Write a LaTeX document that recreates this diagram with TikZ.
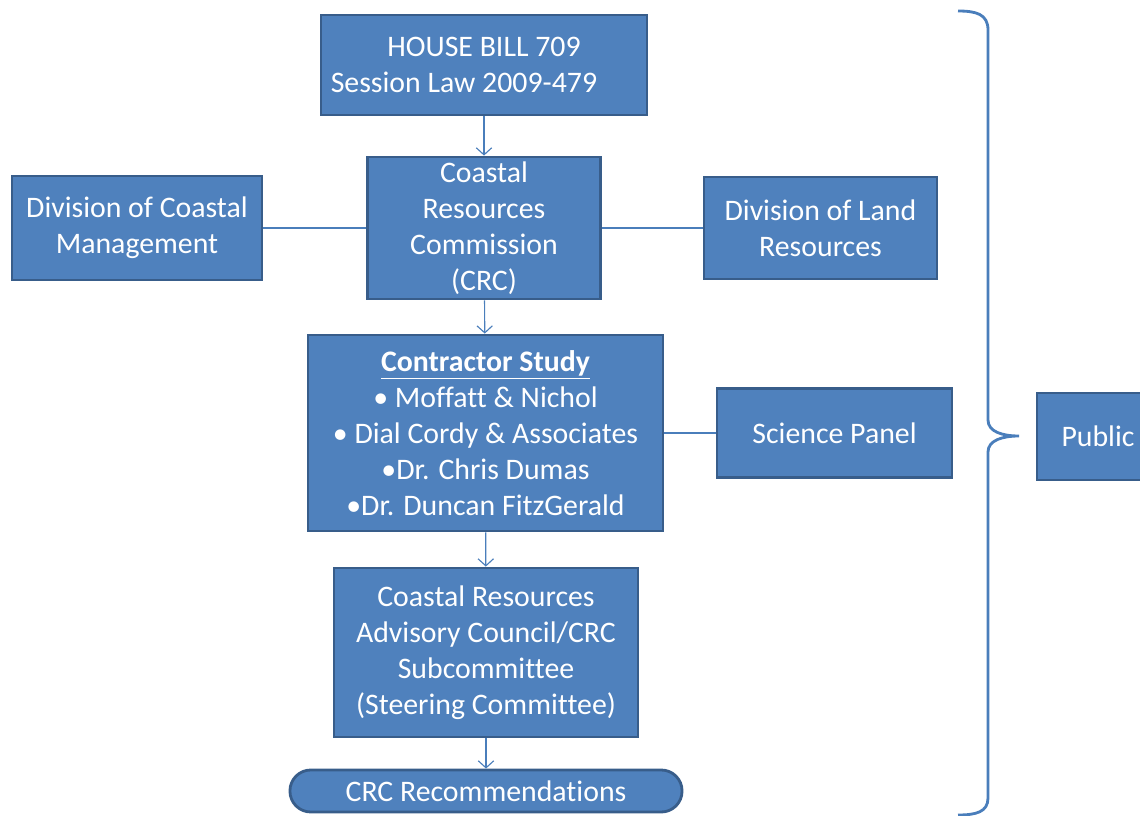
\documentclass[tikz,border=0pt]{standalone}
\usepackage{fontspec}
\setmainfont{Carlito}[Ligatures=NoCommon]
\usetikzlibrary{arrows.meta}
\definecolor{boxfill}{HTML}{4F81BD}
\definecolor{boxline}{HTML}{385D8A}
\definecolor{linkc}{HTML}{4A7EBB}

\begin{document}
\begin{tikzpicture}[%
        x = 0.025cm, y = -0.025cm,
        box/.style = {draw=boxline, fill=boxfill, line width=2pt, text=white,
          align=center, inner sep=0pt, font=\fontsize{21.2}{25.5}\selectfont},
        link/.style = {draw=linkc, line width=0.8pt},
        flow/.style = {link, -{Straight Barb[length=5pt,width=11pt]}}
    ]
      \useasboundingbox (0,0) rectangle (1140,816);
      \node[box, minimum width=8.15cm, minimum height=2.5cm] (bill) at (484,65)
        {HOUSE BILL 709\\Session Law 2009-479\hspace*{1cm}};
      \node[box, minimum width=5.825cm, minimum height=3.55cm] (crc) at (484,228)
        {Coastal\\Resources\\Commission\\(CRC)};
      \node[box, minimum width=6.25cm, minimum height=2.6cm] (dcm) at (137,228)
        {Division of Coastal\\Management};
      \node[box, minimum width=5.825cm, minimum height=2.55cm] (dlr) at (820.5,228)
        {Division of Land\\Resources};
      \node[box, minimum width=8.875cm, minimum height=4.9cm] (study) at (485.5,433)
        {\underline{\textbf{Contractor Study}}\\• Moffatt \& Nichol\\• Dial Cordy \& Associates\\•Dr. Chris Dumas\\•Dr. Duncan FitzGerald};
      \node[box, minimum width=5.875cm, minimum height=2.225cm] (panel) at (834.5,433)
        {Science Panel};
      \node[box, minimum width=7.6cm, minimum height=4.225cm] (council) at (486,652.5)
        {Coastal Resources\\Advisory Council/CRC\\Subcommittee\\(Steering Committee)};
      \node[box, minimum width=9.8cm, minimum height=1.05cm, rounded corners=0.52cm] (recs) at (486,791)
        {CRC Recommendations};
      \node[box, minimum width=3.05cm, minimum height=2.175cm] (public) at (1098,436.5)
        {Public};
      % links
      \draw[flow] (bill) -- (crc);
      \draw[flow] (crc) -- (study);
      \draw[flow] (study) -- (council);
      \draw[flow] (council) -- (recs);
      \draw[link] (crc) -- (dcm);
      \draw[link] (crc) -- (dlr);
      \draw[link] (study) -- (panel);
      % brace
      \draw[linkc, line width=2pt] (958,11) .. controls (976,11) and (988,14) .. (988,30)
        -- (988,420) .. controls (988,432) and (1003,436) .. (1019,436)
        .. controls (1003,436) and (988,440) .. (988,452)
        -- (988,798) .. controls (988,812) and (976,815) .. (958,815);
    \end{tikzpicture}
\end{document}
